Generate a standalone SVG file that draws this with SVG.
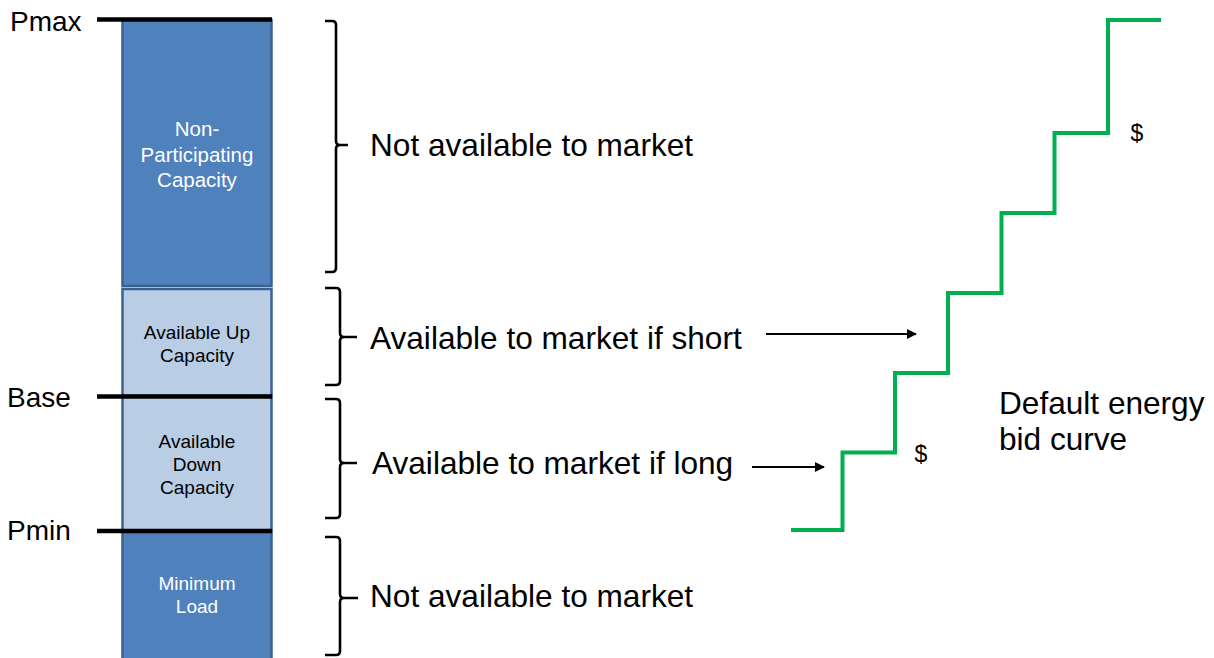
<svg xmlns="http://www.w3.org/2000/svg" width="1214" height="658" viewBox="0 0 1214 658">
<defs>
<style>
.t{font-family:"Liberation Sans",Arial,sans-serif;fill:#000}
.big{font-size:31.6px}
.lab{font-size:28px}
.in{font-size:19px;text-anchor:middle}
.w{fill:#fff}
.dark{fill:#4F81BD;stroke:#3B6190;stroke-width:2.5}
.light{fill:#B9CDE5;stroke:#3B6190;stroke-width:2.5}
.lvl{stroke:#000;stroke-width:4.5}
.br{fill:none;stroke:#000;stroke-width:2.6;stroke-linejoin:round}
.ar{stroke:#000;stroke-width:2.2;fill:none}
.dol{font-size:23px;text-anchor:middle}
</style>
<marker id="ah" viewBox="0 0 10 10" refX="9" refY="5" markerWidth="10" markerHeight="10" markerUnits="userSpaceOnUse" orient="auto">
<path d="M0,0 L10,5 L0,10 z" fill="#000"/>
</marker>
</defs>
<rect width="1214" height="658" fill="#fff"/>

<g id="non-participating">
<rect class="dark" x="122.5" y="20" width="149" height="266"/>
<text class="t in w" x="197" y="136" style="font-size:20.5px">Non-</text>
<text class="t in w" x="197" y="162" style="font-size:20.5px">Participating</text>
<text class="t in w" x="197" y="187" style="font-size:20.5px">Capacity</text>
</g>
<g id="available-up">
<rect class="light" x="122.5" y="289" width="149" height="107"/>
<text class="t in" x="197" y="339">Available Up</text>
<text class="t in" x="197" y="362">Capacity</text>
</g>
<g id="available-down">
<rect class="light" x="122.5" y="396" width="149" height="135"/>
<text class="t in" x="197" y="448">Available</text>
<text class="t in" x="197" y="471">Down</text>
<text class="t in" x="197" y="494">Capacity</text>
</g>
<g id="minimum-load">
<rect class="dark" x="122.5" y="531" width="149" height="132"/>
<text class="t in w" x="197" y="590">Minimum</text>
<text class="t in w" x="197" y="613">Load</text>
</g>

<g id="levels">
<line class="lvl" x1="97" y1="19.5" x2="272" y2="19.5"/>
<line class="lvl" x1="97" y1="396.5" x2="272" y2="396.5"/>
<line class="lvl" x1="97" y1="531" x2="272" y2="531"/>
<text class="t lab" x="10" y="31">Pmax</text>
<text class="t lab" x="7" y="407">Base</text>
<text class="t lab" x="7" y="540">Pmin</text>
</g>

<g id="brace-1">
<path class="br" d="M325,21 L332,21 Q336,21 336,25 L336,141 Q336,145 340,145 L348,145 M340,145 Q336,145 336,149 L336,268 Q336,272 332,272 L325,272"/>
<text class="t big" x="370" y="156">Not available to market</text>
</g>
<g id="brace-2">
<path class="br" d="M325,288 L336,288 Q340,288 340,292 L340,333 Q340,337 344,337 L357,337 M344,337 Q340,337 340,341 L340,381 Q340,385 336,385 L325,385"/>
<text class="t big" x="370" y="349">Available to market if short</text>
</g>
<g id="brace-3">
<path class="br" d="M325,399 L336,399 Q340,399 340,403 L340,459 Q340,463 344,463 L357,463 M344,463 Q340,463 340,467 L340,514 Q340,518 336,518 L325,518"/>
<text class="t big" x="372" y="474">Available to market if long</text>
</g>
<g id="brace-4">
<path class="br" d="M325,537 L336,537 Q340,537 340,541 L340,594 Q340,598 344,598 L358,598 M344,598 Q340,598 340,602 L340,651 Q340,655 336,655 L325,655"/>
<text class="t big" x="370" y="607">Not available to market</text>
</g>

<g id="connectors">
<line class="ar" x1="766" y1="334" x2="916" y2="334" marker-end="url(#ah)"/>
<line class="ar" x1="752" y1="467" x2="824" y2="467" marker-end="url(#ah)"/>
</g>

<g id="bid-curve">
<path d="M791,530 H842.5 V452.5 H895 V373 H948 V293 H1001.5 V213 H1054.5 V133 H1108 V20 H1161" fill="none" stroke="#00B050" stroke-width="4"/>
<text class="t dol" x="1137" y="141">$</text>
<text class="t dol" x="921" y="462">$</text>
<text class="t big" x="999" y="414">Default energy</text>
<text class="t big" x="999" y="450">bid curve</text>
</g>
</svg>
